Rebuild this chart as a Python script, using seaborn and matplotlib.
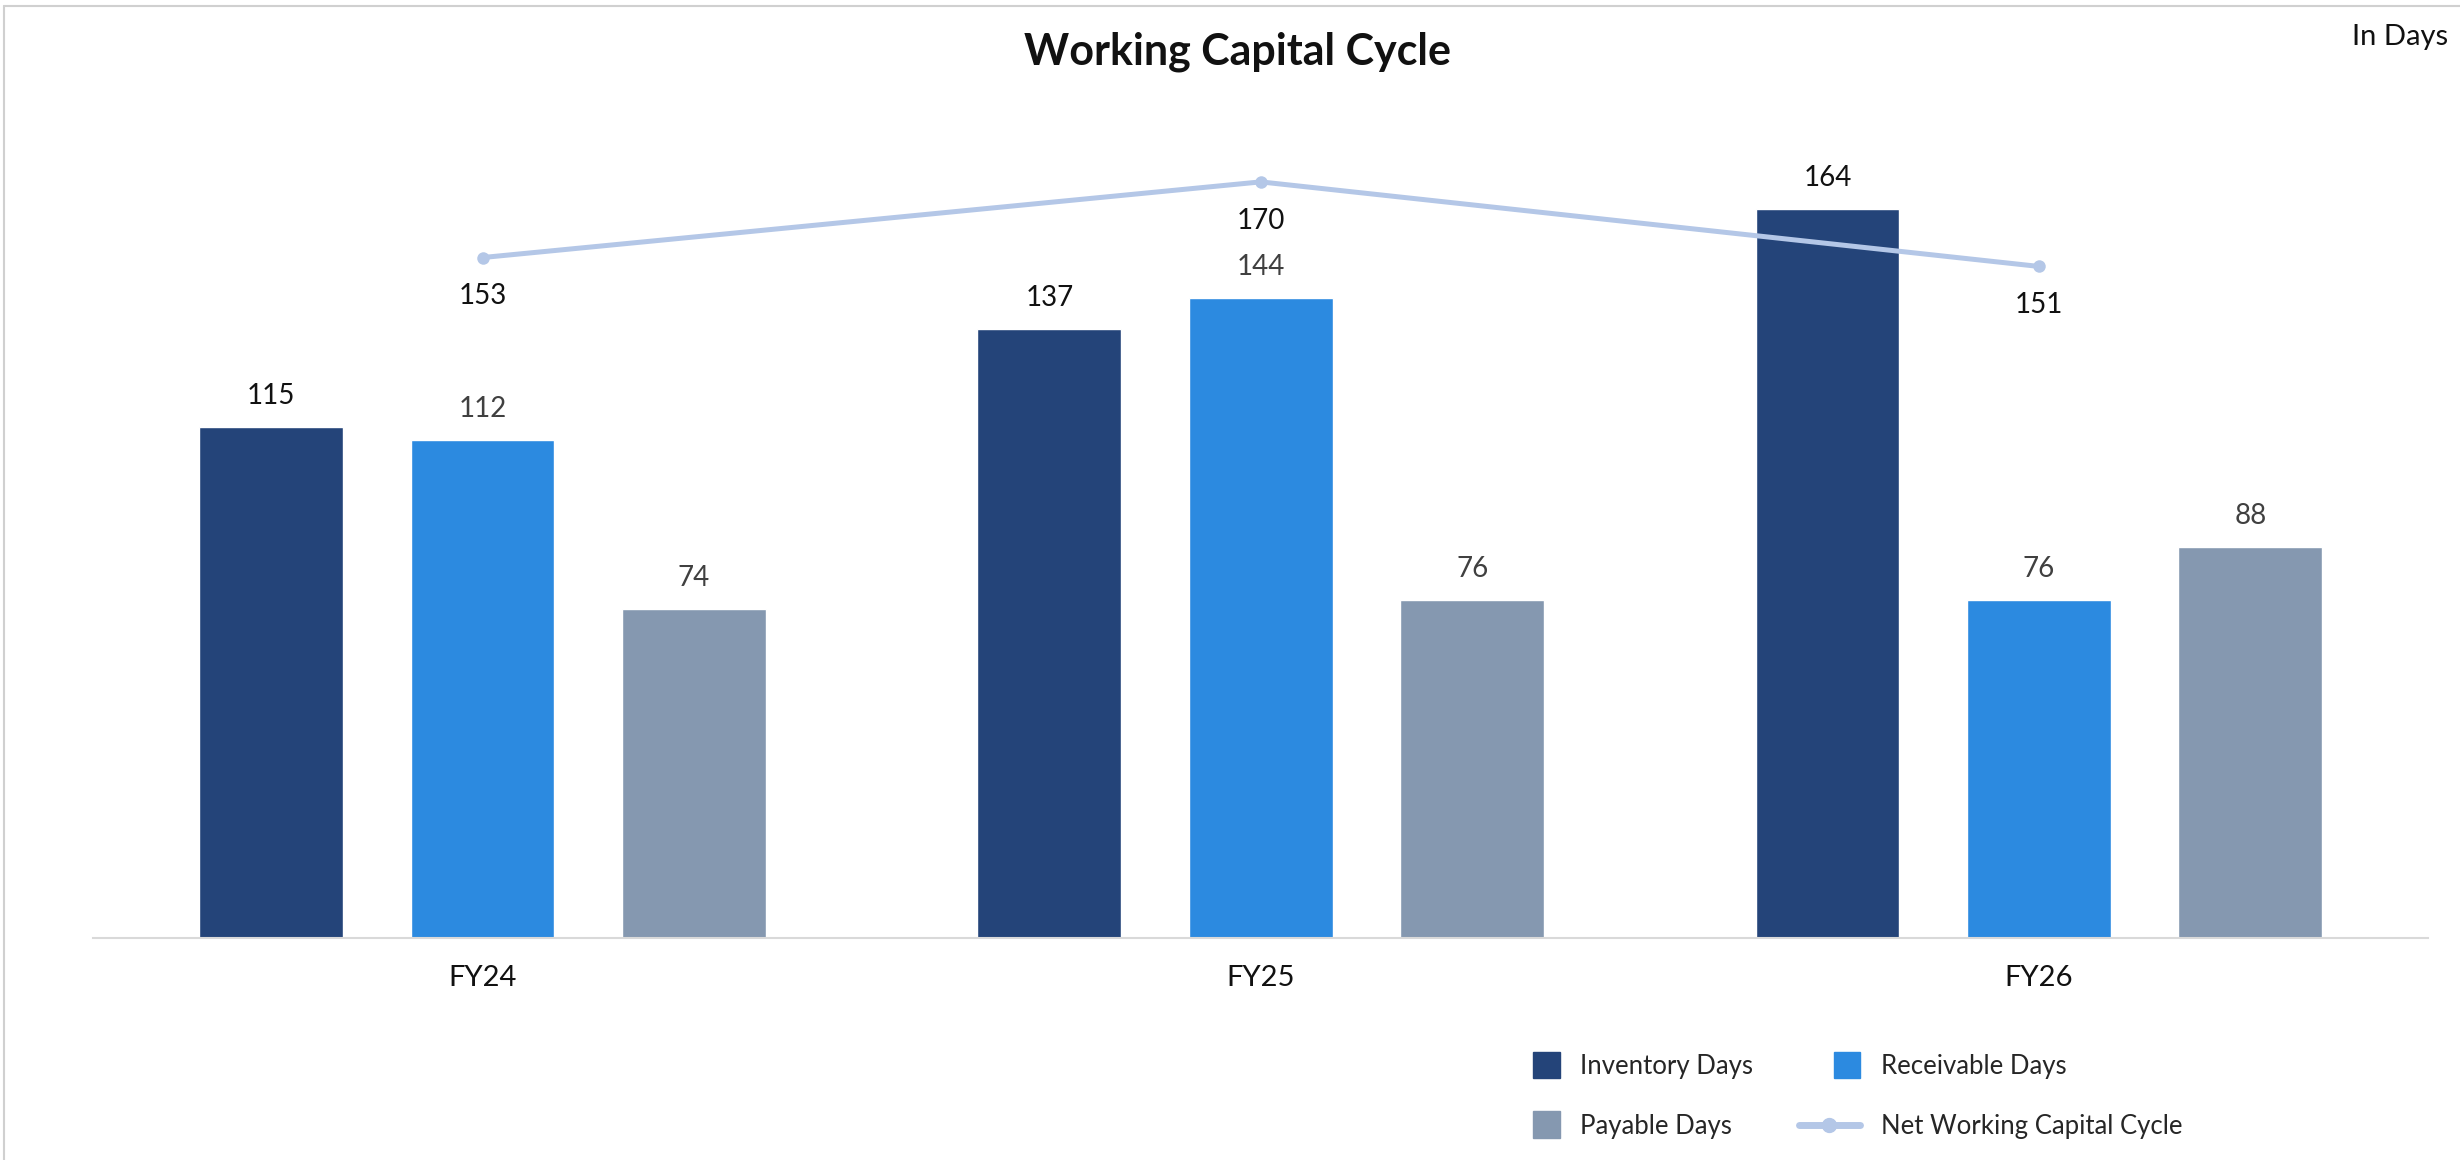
import matplotlib
matplotlib.use("Agg")
import matplotlib.pyplot as plt
from matplotlib.lines import Line2D
from matplotlib.patches import Patch, Rectangle
from matplotlib.legend_handler import HandlerPatch
import seaborn as sns
import pandas as pd

years = ["FY24", "FY25", "FY26"]
inventory_days = [115, 137, 164]
receivable_days = [112, 144, 76]
payable_days = [74, 76, 88]
net_wc_cycle = [153, 170, 151]
series_names = ["Inventory Days", "Receivable Days", "Payable Days"]
line_name = "Net Working Capital Cycle"

colors = {"Inventory Days": "#244479", "Receivable Days": "#2C8AE0", "Payable Days": "#8598B0"}
line_color = "#B4C7E7"
label_colors = {"Inventory Days": "#111111", "Receivable Days": "#404040", "Payable Days": "#404040"}

df = pd.DataFrame({
    "Year": years * 3,
    "Series": [s for s in series_names for _ in years],
    "Days": inventory_days + receivable_days + payable_days,
})

sns.set_theme(style="white")
plt.rcParams["font.family"] = ["Lato", "DejaVu Sans"]

fig = plt.figure(figsize=(24.6, 11.6), dpi=100)
ax = fig.add_axes([0.038, 0.191, 0.949, 0.7673])

sns.barplot(data=df, x="Year", y="Days", hue="Series", hue_order=series_names,
            palette=colors, width=0.815, gap=0.32, dodge=True, ax=ax,
            legend=False, errorbar=None, saturation=1)

for cont, name in zip(ax.containers, series_names):
    ax.bar_label(cont, padding=13, fontsize=20, color=label_colors[name])

xpos = list(range(len(years)))
sns.lineplot(x=xpos, y=net_wc_cycle, ax=ax, color=line_color, linewidth=3.6,
             marker="o", markersize=9, markeredgewidth=0, legend=False)
for x, v in zip(xpos, net_wc_cycle):
    ax.annotate(str(v), (x, v), xytext=(0, -28), textcoords="offset points",
                ha="center", va="center", fontsize=20, color="#111111")

ax.set_xlim(-0.5, 2.5)
ax.set_ylim(0, 200)
ax.set_xlabel("")
ax.set_ylabel("")
ax.set_yticks([])
for s in ["top", "right", "left"]:
    ax.spines[s].set_visible(False)
ax.spines["bottom"].set_color("#D9D9D9")
ax.spines["bottom"].set_linewidth(1.5)
ax.tick_params(axis="x", length=0, pad=19, labelsize=21, labelcolor="#111111")

fig.text(0.503, 0.955, "Working Capital Cycle", ha="center", va="center",
         fontsize=31, fontweight="bold", color="#111111")
fig.text(0.995, 0.968, "In Days", ha="right", va="center", fontsize=21, color="#111111")


def right_square(legend, orig_handle, xdescent, ydescent, width, height, fontsize):
    s = 19.0
    return Rectangle((width - s - xdescent, height / 2 - s / 2 - ydescent), s, s)


sq = HandlerPatch(patch_func=right_square)
handles = [
    Patch(color=colors["Inventory Days"]),
    Patch(color=colors["Payable Days"]),
    Patch(color=colors["Receivable Days"]),
    Line2D([], [], color=line_color, linewidth=5, marker="o", markersize=10),
]
labels = ["Inventory Days", "Payable Days", "Receivable Days", line_name]
fig.legend(handles, labels, ncol=2, loc="center", bbox_to_anchor=(0.748, 0.055),
           frameon=False, fontsize=18.5, handlelength=2.4, handletextpad=0.8,
           columnspacing=1.77, labelspacing=1.35,
           handler_map={Patch: sq})

fig.add_artist(Line2D([0.0018, 0.0018], [0, 0.9948], color="#D0D0D0", linewidth=1.5,
                      transform=fig.transFigure))
fig.add_artist(Line2D([0.0018, 1.0], [0.9948, 0.9948], color="#D0D0D0", linewidth=1.5,
                      transform=fig.transFigure))

fig.savefig("out.png", dpi=100, facecolor="white")
